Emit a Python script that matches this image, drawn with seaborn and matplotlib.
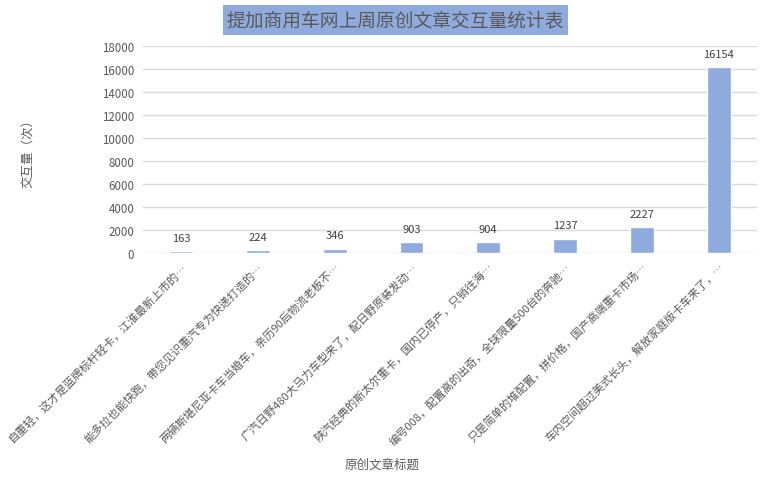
import numpy as np
import pandas as pd
import matplotlib.pyplot as plt
import seaborn as sns

titles = [
    "自重轻，这才是蓝牌标杆轻卡，江淮最新上市的…",
    "能多拉也能快跑，带您见识重汽专为快递打造的…",
    "两辆斯堪尼亚卡车当婚车，亲历90后物流老板不…",
    "广汽日野480大马力车型来了，配日野原装发动…",
    "陕汽经典的斯太尔重卡，国内已停产，只销往海…",
    "编号008，配置高的出奇，全球限量500台的奔驰…",
    "只是简单的堆配置，拼价格，国产高端重卡市场…",
    "车内空间超过美式长头，解放家庭版卡车来了，…",
]
counts = [163, 224, 346, 903, 904, 1237, 2227, 16154]
yticks = list(range(0, 18001, 2000))


def main():
    sns.set_theme(style="white")
    plt.rcParams["font.family"] = ["Noto Sans CJK SC", "DejaVu Sans"]
    grey = "#595959"

    df = pd.DataFrame({"title": titles, "count": counts})
    fig, ax = plt.subplots(figsize=(7.71, 4.89), dpi=100)
    fig.subplots_adjust(left=0.185, right=0.982, top=0.904, bottom=0.481)

    sns.barplot(data=df, x="title", y="count", color="#8FAADC", width=0.31,
                saturation=1, ax=ax, zorder=3)
    for i, v in enumerate(counts):
        ax.annotate(str(v), (i, v), xytext=(0, 6), textcoords="offset points",
                    ha="center", va="bottom", fontsize=8, color="#404040")

    ax.set_ylim(0, 18000)
    ax.set_yticks(yticks)
    ax.set_yticklabels([str(t) for t in yticks], fontsize=8.3, color=grey)
    ax.yaxis.grid(True, color="#d9d9d9", linewidth=1, zorder=0)
    ax.set_axisbelow(True)
    for s in ax.spines.values():
        s.set_visible(False)
    ax.tick_params(axis="both", length=0, pad=6)

    ax.set_xticks(range(len(titles)))
    ax.set_xticklabels(titles, rotation=45, ha="right", rotation_mode="anchor",
                       fontsize=8.1, color=grey)
    ax.set_xlabel("原创文章标题", fontsize=9, color=grey, labelpad=0)
    ax.xaxis.set_label_coords(0.39, -0.99)
    ax.set_ylabel("交互量（次）", fontsize=9, color=grey)
    ax.yaxis.set_label_coords(-0.175, 0.5)

    fig.text(0.513, 0.957, "提加商用车网上周原创文章交互量统计表", ha="center",
             va="center", fontsize=13.5, color=grey,
             bbox=dict(facecolor="#8FAADC", edgecolor="none", pad=3))

    fig.savefig("out.png", dpi=100)


if __name__ == "__main__":
    main()
